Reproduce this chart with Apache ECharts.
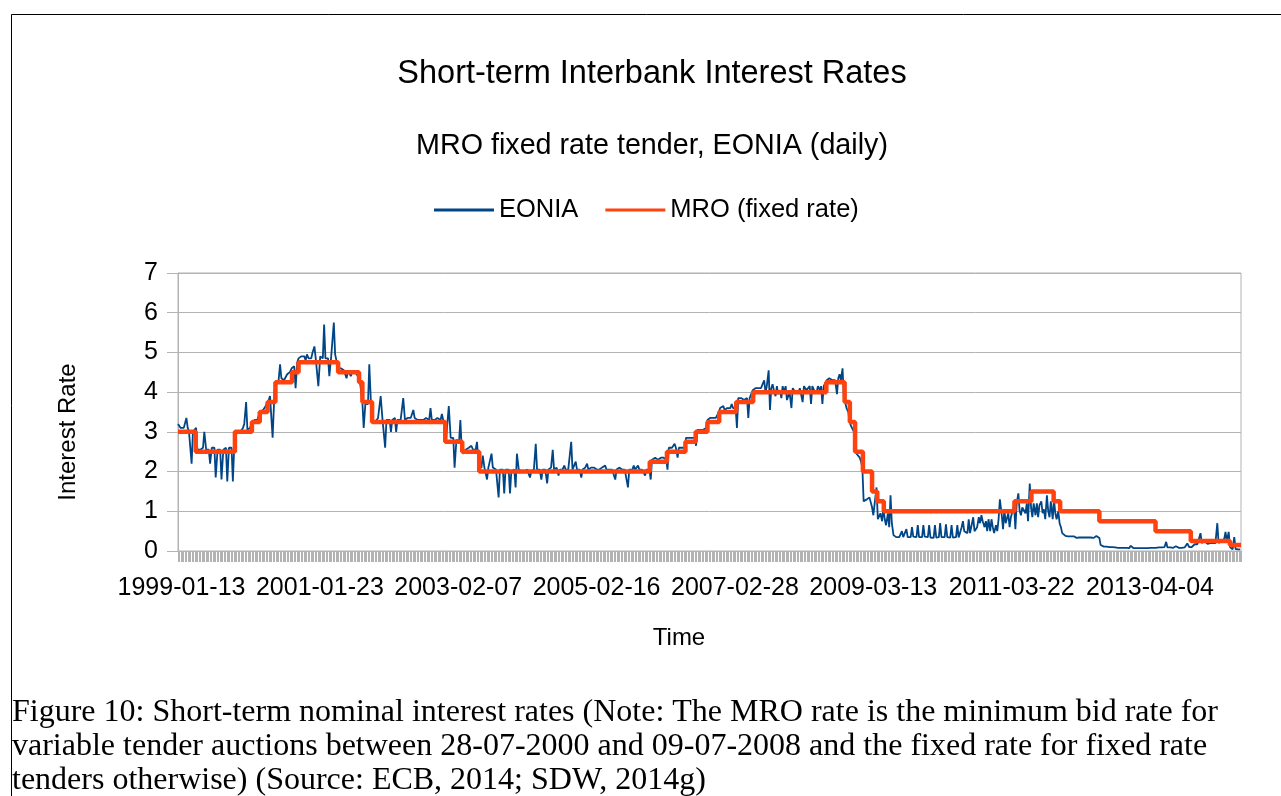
<!DOCTYPE html>
<html>
<head>
<meta charset="utf-8">
<title>Short-term Interbank Interest Rates</title>
<script src="https://cdn.jsdelivr.net/npm/echarts@6.0.0/dist/echarts.min.js"></script>
<style>
  html, body { margin: 0; padding: 0; background: #fff; }
  #chart-container { width: 1281px; height: 796px; }
</style>
</head>
<body>
<div id="chart-container"></div>
<script>
// x axis labels (every ~520 business days)
const tickLabels = [
  "1999-01-13", "2001-01-23", "2003-02-07", "2005-02-16",
  "2007-02-28", "2009-03-13", "2011-03-22", "2013-04-04",
];

// MRO rate: date of change and new rate
const mroDates = [
  "1999-01-04", "1999-04-09", "1999-11-05", "2000-02-04", "2000-03-17",
  "2000-04-28", "2000-06-09", "2000-09-06", "2000-10-11", "2001-05-11",
  "2001-08-31", "2001-09-18", "2001-11-09", "2002-12-06", "2003-03-07",
  "2003-06-06", "2005-12-06", "2006-03-08", "2006-06-15", "2006-08-09",
  "2006-10-11", "2006-12-13", "2007-03-14", "2007-06-13", "2008-07-09",
  "2008-10-15", "2008-11-12", "2008-12-10", "2009-01-21", "2009-03-11",
  "2009-04-08", "2009-05-13", "2011-04-13", "2011-07-13", "2011-11-09",
  "2011-12-14", "2012-07-11", "2013-05-08", "2013-11-13", "2014-06-11",
];
const mroRates = [
  3.0, 2.5, 3.0, 3.25, 3.5,
  3.75, 4.25, 4.5, 4.75, 4.5,
  4.25, 3.75, 3.25, 2.75, 2.5,
  2.0, 2.25, 2.5, 2.75, 3.0,
  3.25, 3.5, 3.75, 4.0, 4.25,
  3.75, 3.25, 2.5, 2.0, 1.5,
  1.25, 1.0, 1.25, 1.5, 1.25,
  1.0, 0.75, 0.5, 0.25, 0.15,
];

// EONIA: 4 values per month (around the 4th, 11th, 18th, 25th)
const eonia1999 = [
  3.2, 3.15, 3.1, 3.15,  3.1, 3.1, 3.35, 3.1,  3.0, 3.0, 2.2, 3.0,
  3.0, 3.1, 2.55, 2.55,  2.55, 2.55, 2.6, 3.0,  2.55, 2.6, 2.55, 2.2,
  2.6, 2.6, 2.6, 1.85,  2.55, 2.55, 2.55, 1.8,  2.55, 2.55, 2.6, 1.75,
  2.6, 2.65, 2.6, 1.75,  2.95, 3.0, 3.0, 2.95,  3.0, 3.05, 3.1, 3.2,
];
const eonia2000 = [
  3.75, 3.05, 3.05, 3.1,  3.2, 3.25, 3.3, 3.25,  3.3, 3.35, 3.5, 3.55,
  3.55, 3.6, 3.65, 3.7,  3.8, 3.9, 3.95, 2.85,  4.0, 4.25, 4.3, 4.25,
  4.7, 4.35, 4.3, 4.3,  4.35, 4.45, 4.5, 4.5,  4.6, 4.6, 4.65, 4.1,
  4.75, 4.85, 4.8, 4.9,  4.85, 4.9, 4.8, 4.95,  4.85, 4.9, 4.85, 5.0,
];
const eonia2001 = [
  5.15, 4.85, 4.8, 4.15,  4.9, 4.95, 4.85, 5.7,  4.85, 4.9, 4.85, 4.4,
  4.9, 4.95, 5.75, 4.95,  4.75, 4.6, 4.55, 4.6,  4.55, 4.55, 4.5, 4.35,
  4.55, 4.5, 4.4, 4.5,  4.5, 4.5, 4.45, 4.4,  4.3, 4.25, 3.75, 3.1,
  3.7, 3.65, 3.7, 4.7,  3.6, 3.3, 3.3, 3.25,  3.3, 3.35, 3.3, 3.9,
];
const eonia2002 = [
  3.3, 3.3, 2.6, 3.3,  3.3, 3.3, 3.0, 3.3,  3.3, 3.35, 3.0, 3.3,
  3.3, 3.3, 3.35, 3.85,  3.3, 3.35, 3.35, 3.3,  3.35, 3.35, 3.55, 3.35,
  3.35, 3.3, 3.35, 3.3,  3.3, 3.3, 3.3, 3.35,  3.3, 3.3, 3.6, 3.3,
  3.3, 3.3, 3.3, 3.35,  3.3, 3.3, 3.45, 3.3,  3.1, 2.85, 2.85, 3.65,
];
const eonia2003 = [
  2.85, 2.8, 2.85, 2.1,  2.8, 2.8, 2.75, 3.3,  2.6, 2.45, 2.5, 2.55,
  2.55, 2.6, 2.55, 2.65,  2.55, 2.55, 2.55, 2.75,  2.15, 2.1, 2.1, 2.4,
  2.1, 2.1, 1.8, 2.1,  2.1, 2.45, 2.1, 2.1,  2.05, 2.05, 1.35, 2.05,
  2.05, 2.05, 1.45, 2.05,  2.0, 2.05, 1.45, 2.0,  2.0, 2.05, 1.6, 2.45,
];
const eonia2004 = [
  2.05, 2.05, 2.0, 2.05,  2.0, 2.05, 2.05, 2.05,  1.85, 2.0, 2.0, 2.05,
  2.7, 2.05, 2.05, 2.05,  1.8, 2.05, 2.05, 2.05,  1.7, 2.05, 2.05, 2.1,
  2.55, 2.05, 2.05, 2.1,  1.9, 2.05, 2.1, 2.05,  2.15, 2.05, 2.05, 2.05,
  2.05, 2.75, 2.05, 2.05,  2.25, 2.05, 2.1, 2.05,  1.85, 2.05, 2.1, 2.1,
];
const eonia2005 = [
  2.2, 2.05, 2.05, 2.1,  2.05, 2.1, 2.05, 2.05,  2.05, 2.05, 2.05, 2.1,
  2.05, 2.15, 2.05, 2.05,  2.05, 2.05, 2.05, 2.05,  1.8, 2.05, 2.05, 2.1,
  2.15, 2.05, 2.05, 2.05,  2.05, 1.6, 2.05, 2.05,  2.05, 2.15, 2.05, 2.1,
  2.15, 2.05, 2.05, 2.05,  2.1, 1.9, 2.05, 2.1,  2.05, 1.8, 2.3, 2.35,
];
const eonia2006 = [
  2.35, 2.3, 2.3, 2.35,  2.35, 2.4, 2.35, 2.3,  2.3, 2.05, 2.6, 2.6,
  2.6, 2.6, 2.7, 2.6,  2.35, 2.6, 2.6, 2.6,  2.6, 2.6, 2.85, 2.85,
  2.85, 2.9, 2.85, 2.85,  2.85, 2.65, 3.05, 3.05,  3.05, 3.1, 3.05, 3.05,
  3.1, 3.3, 3.3, 3.35,  3.35, 3.35, 3.3, 3.35,  3.35, 3.5, 3.6, 3.6,
];
const eonia2007 = [
  3.65, 3.55, 3.6, 3.6,  3.6, 3.6, 3.7, 3.6,  3.6, 3.6, 3.1, 3.85,
  3.8, 3.85, 3.85, 3.8,  3.8, 3.85, 3.35, 3.85,  3.9, 4.05, 4.1, 4.1,
  4.1, 4.1, 4.05, 4.1,  4.1, 4.3, 4.0, 4.15,  4.55, 3.55, 4.1, 4.2,
  4.0, 3.9, 4.15, 3.95,  4.05, 3.85, 4.15, 4.0,  4.15, 3.8, 3.9, 4.0,
];
const eonia2008 = [
  3.6, 4.1, 4.05, 4.0,  4.05, 4.0, 4.1, 4.05,  3.75, 4.15, 4.1, 4.05,
  4.1, 4.15, 3.7, 4.15,  4.05, 4.1, 4.0, 4.15,  4.05, 4.15, 3.7, 4.15,
  4.2, 4.3, 4.3, 4.35,  4.4, 4.3, 4.35, 4.3,  3.95, 4.35, 4.45, 4.3,
  4.6, 3.85, 3.75, 3.6,  3.5, 3.25, 3.15, 3.15,  3.0, 2.9, 2.45, 2.4,
];
const eonia2009 = [
  2.35, 2.25, 2.1, 1.25,  1.25, 1.3, 1.25, 1.35,  1.35, 1.1, 0.9, 1.2,
  1.6, 0.8, 0.75, 0.95,  0.75, 1.1, 0.8, 0.65,  0.95, 0.6, 1.4, 0.7,
  0.4, 0.35, 0.35, 0.35,  0.35, 0.33, 0.5, 0.35,  0.35, 0.55, 0.35, 0.34,
  0.35, 0.6, 0.36, 0.35,  0.35, 0.65, 0.35, 0.36,  0.35, 0.65, 0.36, 0.4,
];
const eonia2010 = [
  0.35, 0.65, 0.34, 0.35,  0.33, 0.65, 0.34, 0.35,  0.35, 0.7, 0.35, 0.38,
  0.35, 0.67, 0.35, 0.34,  0.34, 0.65, 0.34, 0.35,  0.35, 0.65, 0.34, 0.45,
  0.6, 0.75, 0.5, 0.55,  0.45, 0.8, 0.45, 0.5,  0.85, 0.5, 0.45, 0.6,
  0.85, 0.7, 0.9, 0.75,  0.6, 0.75, 0.5, 0.8,  0.5, 0.8, 0.6, 0.45,
];
const eonia2011 = [
  0.65, 0.5, 0.8, 1.3,  0.9, 0.55, 1.05, 0.7,  0.7, 0.95, 0.6, 0.85,
  0.85, 1.15, 0.55, 1.2,  1.45, 1.0, 0.9, 1.1,  1.15, 0.95, 1.2, 0.75,
  1.7, 1.1, 0.85, 1.2,  0.9, 1.2, 0.85, 1.15,  1.25, 0.95, 1.05, 0.8,
  1.4, 1.0, 0.85, 1.25,  0.8, 1.3, 0.95, 0.8,  1.0, 0.7, 0.6, 0.45,
];
const eonia2012 = [
  0.4, 0.38, 0.37, 0.37,  0.37, 0.37, 0.36, 0.37,  0.35, 0.33, 0.35, 0.34,
  0.35, 0.34, 0.35, 0.34,  0.34, 0.34, 0.33, 0.34,  0.33, 0.33, 0.35, 0.38,
  0.35, 0.33, 0.15, 0.12,  0.11, 0.11, 0.11, 0.11,  0.1, 0.1, 0.1, 0.09,
  0.09, 0.09, 0.08, 0.09,  0.08, 0.08, 0.08, 0.08,  0.08, 0.07, 0.07, 0.13,
];
const eonia2013 = [
  0.13, 0.07, 0.07, 0.07,  0.07, 0.07, 0.07, 0.07,  0.07, 0.07, 0.07, 0.07,
  0.08, 0.08, 0.08, 0.08,  0.08, 0.08, 0.08, 0.09,  0.09, 0.09, 0.1, 0.1,
  0.23, 0.09, 0.09, 0.09,  0.08, 0.08, 0.08, 0.12,  0.08, 0.08, 0.08, 0.08,
  0.09, 0.09, 0.09, 0.19,  0.1, 0.1, 0.1, 0.13,  0.17, 0.18, 0.17, 0.2,
];
const eonia2014 = [
  0.45, 0.2, 0.2, 0.25,  0.2, 0.18, 0.17, 0.2,  0.19, 0.2, 0.17, 0.2,
  0.7, 0.2, 0.22, 0.25,  0.25, 0.3, 0.48, 0.25,  0.48, 0.1, 0.05, 0.04,
  0.35, 0.05, 0.04, 0.04,  0.04,
];

const eoniaYears = [
  [1999, eonia1999], [2000, eonia2000], [2001, eonia2001], [2002, eonia2002],
  [2003, eonia2003], [2004, eonia2004], [2005, eonia2005], [2006, eonia2006],
  [2007, eonia2007], [2008, eonia2008], [2009, eonia2009], [2010, eonia2010],
  [2011, eonia2011], [2012, eonia2012], [2013, eonia2013], [2014, eonia2014],
];

// x is measured in days since the first observation (1999-01-04)
const firstDay = Date.UTC(1999, 0, 4);
function dayNo(y, m, d) {
  return (Date.UTC(y, m, d) - firstDay) / 86400000;
}
const axisEnd = 5696;
const labelStep = 741.4;
const weekDays = [4, 11, 18, 25];

const eoniaData = [];
eoniaYears.forEach(([year, values]) => {
  values.forEach((v, i) => {
    eoniaData.push([dayNo(year, Math.floor(i / 4), weekDays[i % 4]), v]);
  });
});

const mroData = mroDates.map((d, i) => {
  const p = d.split("-").map(Number);
  return [dayNo(p[0], p[1] - 1, p[2]), mroRates[i]];
});
mroData.push([axisEnd, mroRates[mroRates.length - 1]]);

const sans = "Liberation Sans";
const serif = "Liberation Serif";
const gray = "#b3b3b3";

const dom = document.getElementById("chart-container");
const myChart = echarts.init(dom, null, { renderer: "canvas" });

const option = {
  animation: false,
  backgroundColor: "#fff",
  graphic: [
    { type: "line", shape: { x1: 11.5, y1: 14.5, x2: 1281, y2: 14.5 }, style: { stroke: "#000", lineWidth: 1 } },
    { type: "line", shape: { x1: 11.5, y1: 14.5, x2: 11.5, y2: 796 }, style: { stroke: "#000", lineWidth: 1 } },
    {
      type: "text", x: 652, y: 74,
      style: { text: "Short-term Interbank Interest Rates", fontFamily: sans, fontSize: 32.5, fill: "#000", align: "center", verticalAlign: "middle" },
    },
    {
      type: "text", x: 652, y: 146,
      style: { text: "MRO fixed rate tender, EONIA (daily)", fontFamily: sans, fontSize: 28.7, fill: "#000", align: "center", verticalAlign: "middle" },
    },
    {
      type: "text", x: 68, y: 432, rotation: Math.PI / 2,
      style: { text: "Interest Rate", fontFamily: sans, fontSize: 24, fill: "#000", align: "center", verticalAlign: "middle" },
    },
    {
      type: "text", x: 679, y: 638,
      style: { text: "Time", fontFamily: sans, fontSize: 24, fill: "#000", align: "center", verticalAlign: "middle" },
    },
    {
      type: "text", x: 12, y: 713,
      style: { text: "Figure 10: Short-term nominal interest rates (Note: The MRO rate is the minimum bid rate for", fontFamily: serif, fontSize: 32, fill: "#000", align: "left", verticalAlign: "middle" },
    },
    {
      type: "text", x: 12, y: 747,
      style: { text: "variable tender auctions between 28-07-2000 and 09-07-2008 and the fixed rate for fixed rate", fontFamily: serif, fontSize: 32, fill: "#000", align: "left", verticalAlign: "middle" },
    },
    {
      type: "text", x: 12, y: 781,
      style: { text: "tenders otherwise) (Source: ECB, 2014; SDW, 2014g)", fontFamily: serif, fontSize: 32, fill: "#000", align: "left", verticalAlign: "middle" },
    },
  ],
  legend: {
    left: 429,
    top: 192,
    icon: "rect",
    itemWidth: 60,
    itemHeight: 3,
    itemGap: 27,
    textStyle: { fontFamily: sans, fontSize: 25.5, color: "#000" },
    data: ["EONIA", "MRO (fixed rate)"],
  },
  grid: {
    left: 178,
    right: 40,
    top: 273,
    bottom: 245,
    show: true,
    borderColor: gray,
    borderWidth: 1,
  },
  xAxis: {
    type: "value",
    min: 0,
    max: axisEnd,
    interval: labelStep,
    axisLine: { show: true, lineStyle: { color: gray } },
    axisTick: { show: true, length: 11, lineStyle: { color: gray } },
    minorTick: { show: true, splitNumber: 99, length: 11, lineStyle: { color: gray } },
    splitLine: { show: false },
    axisLabel: {
      formatter: (v) => tickLabels[Math.round(v / labelStep)] || "",
      color: "#000",
      fontFamily: sans,
      fontSize: 25,
      margin: 25,
      padding: [0, 0, 0, 7],
    },
  },
  yAxis: {
    type: "value",
    min: 0,
    max: 7,
    interval: 1,
    axisLine: { show: true, lineStyle: { color: gray } },
    axisTick: { show: true, length: 11, lineStyle: { color: gray } },
    splitLine: { lineStyle: { color: gray } },
    axisLabel: { color: "#000", fontFamily: sans, fontSize: 25, margin: 20 },
  },
  series: [
    {
      name: "EONIA",
      type: "line",
      data: eoniaData,
      showSymbol: false,
      color: "#004586",
      lineStyle: { color: "#004586", width: 1.8 },
    },
    {
      name: "MRO (fixed rate)",
      type: "line",
      step: "end",
      data: mroData,
      showSymbol: false,
      color: "#ff420e",
      lineStyle: { color: "#ff420e", width: 4.5 },
    },
  ],
};

myChart.setOption(option);
window.addEventListener("resize", myChart.resize);
</script>
</body>
</html>
